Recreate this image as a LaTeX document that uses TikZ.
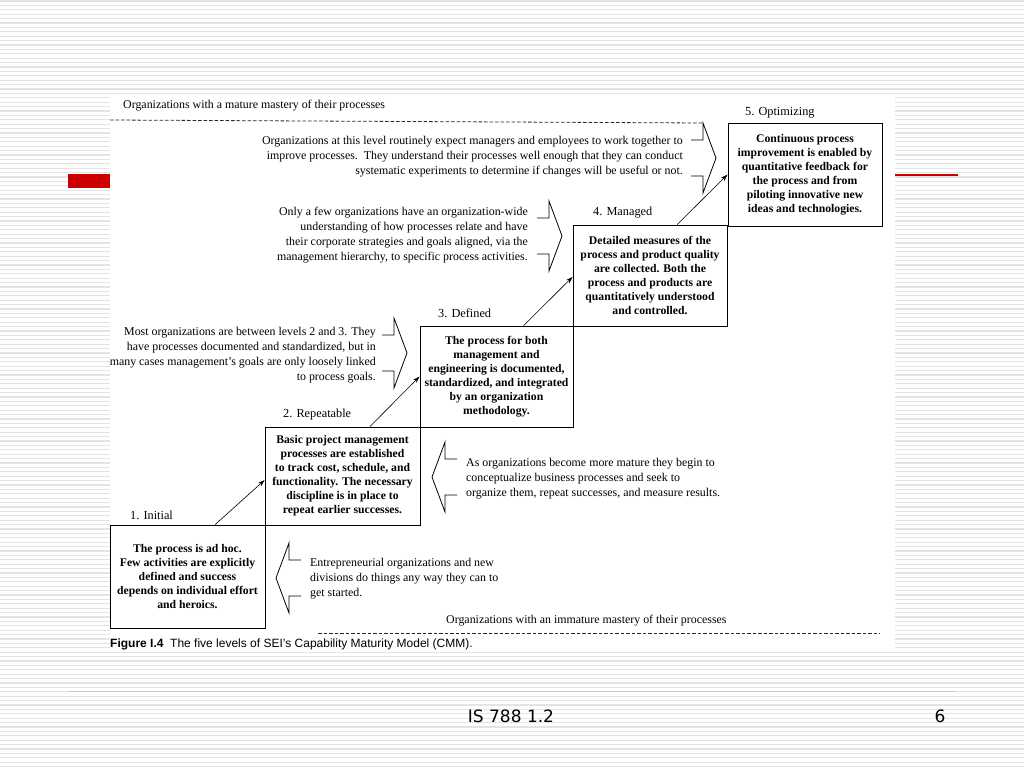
\documentclass[tikz,border=0pt]{standalone}
\usepackage{fontspec}
\setmainfont{Liberation Serif}
\newfontfamily\capfont{Liberation Sans}
\newfontfamily\slidefont{DejaVu Sans}
\usetikzlibrary{arrows.meta}
\definecolor{slidered}{RGB}{204,0,0}
\definecolor{stripegray}{RGB}{228,228,228}
\definecolor{footline}{RGB}{214,192,192}
\tikzset{
  rightchevron/.pic = {
    % The chevron dimensions
    \def\stub{12}
    \def\head{13}
    \def\half{35}
    \def\shaft{18}
    % Open outline with the tip at the origin
    \draw[line width=0.8pt] (-\head-\stub,-\shaft) -- (-\head,-\shaft)
      -- (-\head,-\half) coordinate (-top) -- (0,0)
      -- (-\head,\half) -- (-\head,\shaft) -- (-\head-\stub,\shaft);
  },
  levelbox/.style = {draw, line width=0.8pt, inner sep=0pt, align=center,
    font=\bfseries\fontsize{11.7}{14}\selectfont},
  notetext/.style = {inner sep=0pt, font=\fontsize{11.9}{15}\selectfont},
  lvllabel/.style = {inner sep=0pt, anchor=west, font=\fontsize{12.3}{14}\selectfont},
  uparrow/.style = {line width=0.6pt, -{Stealth[length=7pt,width=4.5pt]}},
  borderdash/.style = {dash pattern=on 3.5pt off 2pt, line width=0.8pt, black!85}
}

\begin{document}
\begin{tikzpicture}[x=1pt,y=-1pt]
    \useasboundingbox (0,0) rectangle (1024,768);
    % Striped slide background
    \fill[white] (0,0) rectangle (1024,768);
    \foreach \ystripe in {1,5.4,...,768}
    \draw[stripegray,line width=1.3pt] (0,\ystripe) -- (1024,\ystripe);
    % Red title marks
    \fill[slidered] (68,174) rectangle (110,188);
    \draw[slidered,line width=1.4pt] (895,175) -- (958,175);
    % White figure area
    \fill[white] (110,94) rectangle (895,652);
    % Top and bottom headings
    \node[notetext,anchor=west] (mature) at (123,106) {Organizations with a mature mastery of their processes};
    \node[notetext,anchor=west] (immature) at (446,621) {Organizations with an immature mastery of their processes};
    % Level boxes
    \node[levelbox,minimum width=155pt,minimum height=103pt] (box1) at (187.5,576.5)
      {The process is ad hoc.\\Few activities are explicitly\\defined and success\\depends on individual effort\\and heroics.};
    \node[levelbox,minimum width=155pt,minimum height=98pt] (box2) at (342.5,476)
      {Basic project management\\processes are established\\to track cost, schedule, and\\functionality. The necessary\\discipline is in place to\\repeat earlier successes.};
    \node[levelbox,minimum width=153pt,minimum height=101pt] (box3) at (496.5,376.5)
      {The process for both\\management and\\engineering is documented,\\standardized, and integrated\\by an organization\\methodology.};
    \node[levelbox,minimum width=154pt,minimum height=101pt] (box4) at (650,275.5)
      {Detailed measures of the\\process and product quality\\are collected. Both the\\process and products are\\quantitatively understood\\and controlled.};
    \node[levelbox,minimum width=154pt,minimum height=103pt] (box5) at (805,174.5)
      {Continuous process\\improvement is enabled by\\quantitative feedback for\\the process and from\\piloting innovative new\\ideas and technologies.};
    % Level names
    \node[lvllabel] (lab1) at (130,515) {1. Initial};
    \node[lvllabel] (lab2) at (283,415) {2. Repeatable};
    \node[lvllabel] (lab3) at (438,313) {3. Defined};
    \node[lvllabel] (lab4) at (593,213) {4. Managed};
    \node[lvllabel] (lab5) at (745,113) {5. Optimizing};
    % Arrows up the staircase
    \draw[uparrow] (box1.62) -- (box2.183);
    \draw[uparrow] (box2.61) -- (box3.180);
    \draw[uparrow] (box3.62) -- (box4.181);
    \draw[uparrow] (box4.62) -- (box5.180);
    % Chevrons beside the notes
    \path pic (chevA) at (716,158) {rightchevron};
    \path pic (chevB) at (562,236) {rightchevron};
    \path pic (chevC) at (407,353) {rightchevron};
    \path pic[xscale=-1] (chevD) at (432,477) {rightchevron};
    \path pic[xscale=-1] (chevE) at (276,578) {rightchevron};
    % Dashed borders of the two headings
    \draw[borderdash] (110,120) -- (chevA-top);
    \draw[borderdash] (318,633) coordinate (dashstart) -- (880,633) coordinate (dashend);
    % Notes
    \node[notetext,align=right,anchor=east] (note5) at (683,157)
      {Organizations at this level routinely expect managers and employees to work together to\\improve processes.\ \ They understand their processes well enough that they can conduct\\systematic experiments to determine if changes will be useful or not.};
    \node[notetext,align=right,anchor=east] (note4) at (528,235.5)
      {Only a few organizations have an organization-wide\\understanding of how processes relate and have\\their corporate strategies and goals aligned, via the\\management hierarchy, to specific process activities.};
    \node[notetext,align=right,anchor=east] (note3) at (376,355.5)
      {Most organizations are between levels 2 and 3. They\\have processes documented and standardized, but in\\many cases management’s goals are only loosely linked\\to process goals.};
    \node[notetext,align=left,anchor=west] (note2) at (466,479)
      {As organizations become more mature they begin to\\conceptualize business processes and seek to\\organize them, repeat successes, and measure results.};
    \node[notetext,align=left,anchor=west] (note1) at (310,579)
      {Entrepreneurial organizations and new\\divisions do things any way they can to\\get started.};
    % Caption
    \node[inner sep=0pt,anchor=west,font=\capfont\fontsize{12}{14}\selectfont] (caption) at (110,644)
      {\textbf{Figure I.4}\ \ The five levels of SEI’s Capability Maturity Model (CMM).};
    % Slide footer
    \draw[footline,line width=1pt] (68,691) -- (956,691);
    \node[inner sep=0pt,font=\slidefont\fontsize{17}{20}\selectfont] (course) at (511,716) {IS 788 1.2};
    \node[inner sep=0pt,font=\slidefont\fontsize{17}{20}\selectfont] (pagenum) at (940,716) {6};
\end{tikzpicture}
\end{document}
